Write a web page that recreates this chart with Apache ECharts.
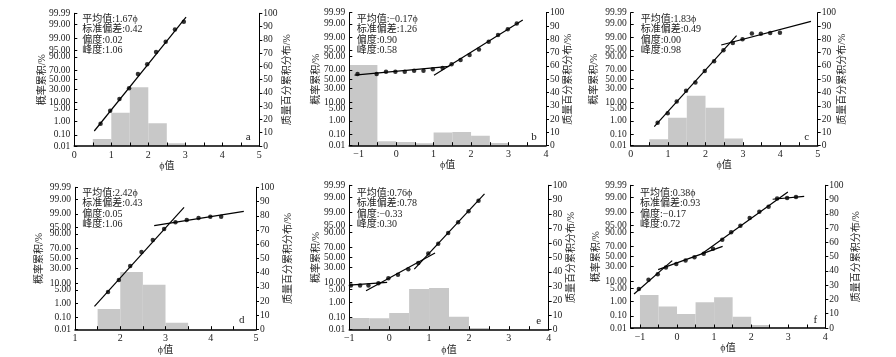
<!DOCTYPE html>
<html><head><meta charset="utf-8">
<script src="https://cdn.jsdelivr.net/npm/echarts@6/dist/echarts.min.js"></script>
<style>html,body{margin:0;padding:0;background:#fff}#c{width:896px;height:357px}</style>
</head><body><div id="c"></div>
<script>
// ---- axis tick definitions ----
const probTicks = [0.01, 0.1, 1, 5, 10, 30, 50, 70, 90, 95, 99, 99.9, 99.99];
const probTickLabels = ['0.01','0.10','1.00','5.00','10.00','30.00','50.00','70.00','90.00','95.00','99.00','99.00','99.99'];
const pctMax = 100, pctStep = 10;
const panelLetters = ['a','b','c','d','e','f'];
const phiMin = [0, -1.25, 0, 1, -1, -1.25];
const phiMax = [5, 4, 5, 5, 4, 4];

// ---- statistics text ----
const statMean = ['1.67','−0.17','1.83','2.42','0.76','0.38'];
const statSD   = ['0.42','1.26','0.49','0.43','0.78','0.93'];
const statSkew = ['0.02','0.90','0.00','0.05','−0.33','−0.17'];
const statKurt = ['1.06','0.58','0.98','1.06','0.30','0.72'];

// ---- histograms (bin edges, frequency %) ----
const aEdges = [0.5, 1, 1.5, 2, 2.5, 3];
const aFreq  = [5.3, 25.0, 44.2, 17.1, 2.0];
const bEdges = [-1.25, -0.5, 0, 0.5, 1, 1.5, 2, 2.5, 3];
const bFreq  = [60.7, 3.3, 2.8, 1.8, 10.0, 10.3, 7.5, 2.0];
const cEdges = [0.5, 1, 1.5, 2, 2.5, 3];
const cFreq  = [4.8, 21.1, 37.6, 28.6, 5.5];
const dEdges = [1.5, 2, 2.5, 3, 3.5];
const dFreq  = [14.5, 40.5, 31.6, 4.9];
const eEdges = [-1, -0.5, 0, 0.5, 1, 1.5, 2, 2.5];
const eFreq  = [8.1, 7.9, 11.5, 28.2, 28.9, 9.0, 1.2];
const fEdges = [-1, -0.5, 0, 0.5, 1, 1.5, 2, 2.5];
const fFreq  = [23.1, 15.0, 9.8, 18.0, 21.5, 7.9, 2.1];

// ---- cumulative probability points (phi, %) ----
const aPhi = [0.71,0.97,1.22,1.48,1.72,1.97,2.21,2.47,2.72,2.96];
const aCum = [0.68,4.10,13.9,31.5,62.5,80.6,94.0,98.32,99.75,99.94];
const bPhi = [-1.03,-0.52,-0.27,-0.02,0.23,0.48,0.73,0.98,1.24,1.48,1.72,1.96,2.21,2.47,2.72,2.98,3.22];
const bCum = [61.4,61.4,66.2,66.2,66.2,68.3,68.3,70.9,73.4,79.8,85.8,91.2,95.2,98.2,99.32,99.74,99.91];
const cPhi = [0.72,0.99,1.23,1.48,1.73,1.98,2.23,2.48,2.73,2.99,3.24,3.48,3.73,3.99];
const cCum = [0.75,2.80,10.5,26.1,42.9,67.5,84.1,94.7,97.85,98.71,99.48,99.45,99.51,99.54];
const dPhi = [1.73,1.97,2.22,2.47,2.72,2.97,3.22,3.47,3.73,3.99,4.23];
const dCum = [4.04,13.1,34.7,63.4,83.3,93.8,97.06,97.77,98.30,98.56,98.56];
const ePhi = [-0.96,-0.73,-0.52,-0.27,-0.02,0.22,0.48,0.73,0.98,1.23,1.48,1.73,1.99,2.24];
const eCum = [7.55,7.55,7.55,9.16,14.2,18.8,27.1,38.9,58.0,76.2,89.7,96.5,99.13,99.83];
const fPhi = [-1.03,-0.77,-0.52,-0.30,-0.02,0.23,0.47,0.72,0.97,1.22,1.46,1.71,1.96,2.22,2.47,2.70,2.97,3.21];
const fCum = [4.57,11.5,17.8,28.8,35.2,42.3,48.5,56.2,66.2,81.2,89.8,94.7,97.8,99.04,99.54,99.876,99.888,99.906];

// ---- fitted line segments: [phi0, %0, phi1, %1] ----
const aFit = [[0.54,0.20,3.02,99.977]];
const bFit = [[-1.11,59.1,1.42,76.2],[1.01,58.5,3.38,99.953]];
const cFit = [[0.63,0.40,2.83,99.25],[2.42,97.2,4.82,99.939]];
const dFit = [[1.43,0.62,3.41,99.62],[2.75,95.7,4.73,99.31]];
const eFit = [[-1,7.8,-0.05,10.0],[-0.58,4.35,1.15,59.1],[0.63,27.6,2.39,99.947]];
const fFit = [[-1.16,2.56,-0.13,41.8],[-0.51,24.9,1.23,70.4],[0.66,55.6,2.99,99.962],[2.58,99.861,3.43,99.917]];

const panels = [
  {edges:aEdges,freq:aFreq,phi:aPhi,cum:aCum,fit:aFit},
  {edges:bEdges,freq:bFreq,phi:bPhi,cum:bCum,fit:bFit},
  {edges:cEdges,freq:cFreq,phi:cPhi,cum:cCum,fit:cFit},
  {edges:dEdges,freq:dFreq,phi:dPhi,cum:dCum,fit:dFit},
  {edges:eEdges,freq:eFreq,phi:ePhi,cum:eCum,fit:eFit},
  {edges:fEdges,freq:fFreq,phi:fPhi,cum:fCum,fit:fFit}
];

// ---- layout ----
const boxes = [
  {left:74.3, top:13.3, width:185, height:132.7},
  {left:349.3, top:12.7, width:196.7, height:133},
  {left:630.7, top:12.7, width:187, height:133},
  {left:75, top:187.3, width:181, height:142.4},
  {left:349.3, top:185.3, width:199.4, height:144.4},
  {left:630.7, top:185.3, width:194.6, height:142.7}
];
const leftNameGap  = [27, 28, 31.5, 31, 28.3, 29.4];
const rightNameGap = [22.7, 17, 20, 27, 18, 25.7];
const statPos = [[82.3,14],[356.7,14],[640.7,14],[82.3,188],[356.7,188],[640,188]];
const letterPos = [[248.3,136.7],[534,136.7],[806.7,136.7],[241.7,319.7],[538.7,320.7],[815.3,319.7]];

// probit scale (inverse normal CDF, Acklam)
function probit(p){
  const a=[-3.969683028665376e+01,2.209460984245205e+02,-2.759285104469687e+02,1.383577518672690e+02,-3.066479806614716e+01,2.506628277459239e+00];
  const b=[-5.447609879822406e+01,1.615858368580409e+02,-1.556989798598866e+02,6.680131188771972e+01,-1.328068155288572e+01];
  const c=[-7.784894002430293e-03,-3.223964580411365e-01,-2.400758277161838e+00,-2.549732539343734e+00,4.374664141464968e+00,2.938163982698783e+00];
  const d=[7.784695709041462e-03,3.224671290700398e-01,2.445134137142996e+00,3.754408661907416e+00];
  const pl=0.02425, ph=1-pl; let q, r;
  if(p<pl){q=Math.sqrt(-2*Math.log(p));return (((((c[0]*q+c[1])*q+c[2])*q+c[3])*q+c[4])*q+c[5])/((((d[0]*q+d[1])*q+d[2])*q+d[3])*q+1);}
  if(p<=ph){q=p-0.5;r=q*q;return (((((a[0]*r+a[1])*r+a[2])*r+a[3])*r+a[4])*r+a[5])*q/(((((b[0]*r+b[1])*r+b[2])*r+b[3])*r+b[4])*r+1);}
  q=Math.sqrt(-2*Math.log(1-p));return -(((((c[0]*q+c[1])*q+c[2])*q+c[3])*q+c[4])*q+c[5])/((((d[0]*q+d[1])*q+d[2])*q+d[3])*q+1);
}
const Z = pc => probit(pc/100);
const zMax = Z(99.99), zMin = Z(0.01);
const probTickZ = probTicks.map(Z);

const FONT = "'Liberation Serif','Noto Sans CJK SC',serif";
const TXT = '#222';

const grid=[], xAxis=[], yAxis=[], series=[], graphic=[];
panels.forEach((P,i)=>{
  const B = boxes[i];
  grid.push({left:B.left, top:B.top, width:B.width, height:B.height, containLabel:false, show:false});
  const intTicks=[], halfTicks=[];
  for(let v=Math.ceil(phiMin[i]); v<=phiMax[i]+1e-9; v++) intTicks.push(v);
  for(let v=Math.ceil(phiMin[i]*2)/2; v<=phiMax[i]+1e-9; v+=0.5) halfTicks.push(v);
  xAxis.push({
    type:'value', gridIndex:i, min:phiMin[i], max:phiMax[i], z:5,
    name:'ϕ值', nameLocation:'middle', nameGap: i<3?15:15.5, nameMoveOverlap:false,
    nameTextStyle:{fontFamily:FONT, fontSize:10, color:TXT},
    axisLine:{show:true, onZero:false, lineStyle:{color:'#000', width:1.6}},
    axisTick:{show:true, inside:true, length:3.5, customValues:halfTicks, lineStyle:{color:'#000', width:1}},
    axisLabel:{show:true, customValues:intTicks, margin:4, fontFamily:FONT, fontSize:10, color:TXT,
      formatter:v=>v<0?'−'+Math.abs(v):String(v)},
    splitLine:{show:false}
  });
  yAxis.push({
    type:'value', gridIndex:i, min:zMin, max:zMax, position:'left', z:5,
    name:'概率累积/%', nameLocation:'middle', nameGap:leftNameGap[i], nameRotate:90, nameMoveOverlap:false,
    nameTextStyle:{fontFamily:FONT, fontSize:10, color:TXT},
    axisLine:{show:true, onZero:false, lineStyle:{color:'#000', width:1}},
    axisTick:{show:true, inside:true, length:3, customValues:probTickZ, lineStyle:{color:'#000'}},
    axisLabel:{show:true, customValues:probTickZ, margin:4, fontFamily:FONT, fontSize:9.5, color:TXT,
      formatter:v=>{let k=0,best=1e9;probTickZ.forEach((z,j)=>{const dd=Math.abs(z-v);if(dd<best){best=dd;k=j;}});return probTickLabels[k];}},
    splitLine:{show:false}
  });
  yAxis.push({
    type:'value', gridIndex:i, min:0, max:pctMax, interval:pctStep, position:'right', z:5,
    name:'质量百分累积分布/%', nameLocation:'middle', nameGap:rightNameGap[i], nameRotate:90, nameMoveOverlap:false,
    nameTextStyle:{fontFamily:FONT, fontSize:10, color:TXT},
    axisLine:{show:true, onZero:false, lineStyle:{color:'#000', width:1}},
    axisTick:{show:true, inside:false, length:3, lineStyle:{color:'#000'}},
    axisLabel:{show:true, margin:4, fontFamily:FONT, fontSize:9.5, color:TXT},
    splitLine:{show:false}
  });
  const bars = P.freq.map((f,k)=>[P.edges[k], P.edges[k+1], f]);
  series.push({
    type:'custom', xAxisIndex:i, yAxisIndex:2*i+1, z:1, clip:true, silent:true,
    encode:{x:[0,1], y:2}, data:bars,
    renderItem:(params, api)=>{
      const p0 = api.coord([api.value(0), api.value(2)]);
      const p1 = api.coord([api.value(1), 0]);
      return {type:'rect', shape:{x:p0[0], y:p0[1], width:p1[0]-p0[0], height:p1[1]-p0[1]},
        style:{fill:'#c8c8c8'}};
    }
  });
  P.fit.forEach(s=>{
    series.push({type:'line', xAxisIndex:i, yAxisIndex:2*i, z:3, symbol:'none', silent:true,
      data:[[s[0], Z(s[1])],[s[2], Z(s[3])]],
      lineStyle:{color:'#000', width:1.2}});
  });
  series.push({type:'scatter', xAxisIndex:i, yAxisIndex:2*i, z:4, symbol:'circle', symbolSize:4.5, silent:true,
    itemStyle:{color:'#000'},
    data:P.phi.map((x,k)=>[x, Z(P.cum[k])])});
  graphic.push({type:'text', x:statPos[i][0], y:statPos[i][1], z:10, silent:true,
    style:{text:'平均值:'+statMean[i]+'ϕ\n标准偏差:'+statSD[i]+'\n偏度:'+statSkew[i]+'\n峰度:'+statKurt[i],
      font:'10px '+FONT, lineHeight:10.4, fill:TXT, verticalAlign:'top', align:'left'}});
  graphic.push({type:'text', x:letterPos[i][0], y:letterPos[i][1], z:10, silent:true,
    style:{text:panelLetters[i], font:'11px '+FONT, fill:TXT, align:'center', verticalAlign:'middle'}});
});

const chart = echarts.init(document.getElementById('c'), null, {renderer:'canvas'});
chart.setOption({animation:false, backgroundColor:'#fff', grid, xAxis, yAxis, series, graphic});
</script>
</body></html>
